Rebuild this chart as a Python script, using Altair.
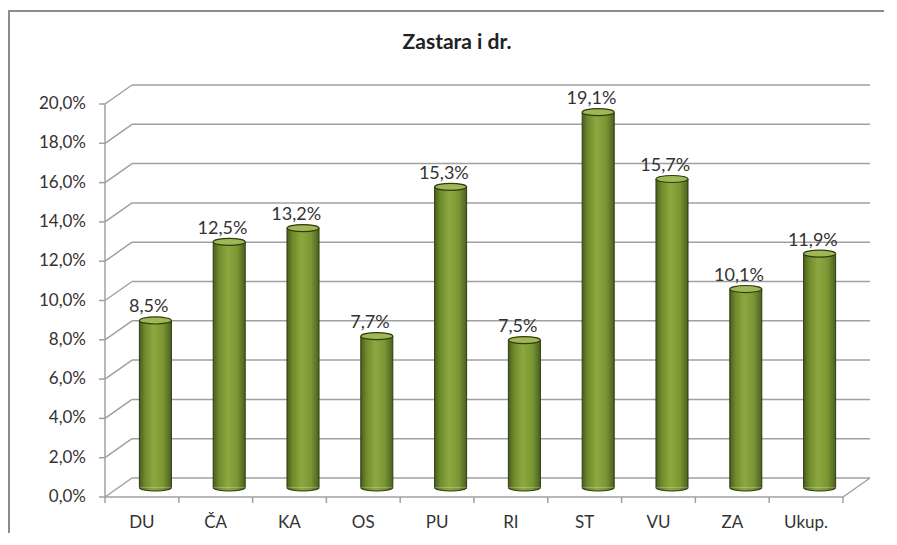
import altair as alt
import pandas as pd

# ---- data ----
categories = ["DU", "ČA", "KA", "OS", "PU", "RI", "ST", "VU", "ZA", "Ukup."]
values = [8.5, 12.5, 13.2, 7.7, 15.3, 7.5, 19.1, 15.7, 10.1, 11.9]
y_ticks = [0, 2, 4, 6, 8, 10, 12, 14, 16, 18, 20]
title_text = "Zastara i dr."

# ---- geometry (3D depth offsets in data units) ----
W, H = 765, 412
DX = 0.366   # depth offset along x (category units)
DY = 0.967   # depth offset along y (percent units)
HALF_W = 0.217  # half cylinder width (category units)
N = len(categories)

FONT = "Lato"
TXT = "#333333"
GRID = "#a0a0a0"

xs = alt.Scale(domain=[0, N + DX], nice=False, zero=False)
ys = alt.Scale(domain=[0, 20 + DY], nice=False, zero=False)

bars = pd.DataFrame({"cat": categories, "val": values, "idx": list(range(N))})
bars["cc"] = bars["idx"] + 0.5
bars["cx"] = bars["idx"] + 0.5 + DX / 2
bars["x0"] = bars["cx"] - HALF_W
bars["x1"] = bars["cx"] + HALF_W
bars["base"] = DY / 2
bars["top"] = bars["val"] + DY / 2
bars["lx"] = bars["idx"] + 0.5 + DX / 4
bars["label"] = bars["val"].map(lambda v: f"{v:.1f}".replace(".", ",") + "%")

grid = pd.DataFrame({"v": y_ticks})
grid["vb"] = grid["v"] + DY
grid["x0"] = 0.0
grid["xb0"] = DX
grid["xb1"] = N + DX
grid["lab"] = grid["v"].map(lambda v: f"{v:.1f}".replace(".", ",") + "%")

X = lambda f: alt.X(f, type="quantitative", scale=xs, axis=None)
Y = lambda f: alt.Y(f, type="quantitative", scale=ys, axis=None)

# outer chart frame (right/bottom edges fall outside the view, as in the crop)
frame = alt.Chart(pd.DataFrame({"a": [0]})).mark_rect(
    fill="white", stroke="#8c8c8c", strokeWidth=2).encode(
    x=alt.value(-96), x2=alt.value(W + 40), y=alt.value(-74), y2=alt.value(H + 80))

# back wall gridlines
back = alt.Chart(grid).mark_rule(color=GRID, strokeWidth=1.5).encode(
    x=X("xb0"), x2="xb1", y=Y("vb"))
# side wall diagonals
side = alt.Chart(grid).mark_rule(color=GRID, strokeWidth=1.5).encode(
    x=X("x0"), x2="xb0", y=Y("v"), y2="vb")

floor_df = pd.DataFrame({"xa": [0, N, 0], "xb": [N, N + DX, 0],
                         "ya": [0, 0, 0], "yb": [0, DY, 20]})
floor = alt.Chart(floor_df).mark_rule(color=GRID, strokeWidth=1.5).encode(
    x=X("xa"), x2="xb", y=Y("ya"), y2="yb")

# y axis ticks + labels
yticks = alt.Chart(grid).mark_rule(color=GRID, strokeWidth=1.5).encode(
    x=alt.value(-6), x2=alt.value(0), y=Y("v"))
ylabels = alt.Chart(grid).mark_text(
    font=FONT, fontSize=17, color=TXT, align="right", baseline="middle").encode(
    x=alt.value(-19), y=Y("v"), text="lab:N")

# x axis ticks + labels
xt = pd.DataFrame({"t": list(range(N + 1))})
xticks = alt.Chart(xt).mark_rule(color=GRID, strokeWidth=1.5).encode(
    x=X("t"), y=alt.value(H), y2=alt.value(H + 6))
xlabels = alt.Chart(bars).mark_text(
    font=FONT, fontSize=17, color=TXT, align="center", baseline="middle").encode(
    x=X("cc"), y=alt.value(H + 26), text="cat:N")

body_grad = alt.Gradient(
    gradient="linear", x1=0, y1=0, x2=1, y2=0,
    stops=[alt.GradientStop(offset=0, color="#4a5d1e"),
           alt.GradientStop(offset=0.18, color="#6f8b2c"),
           alt.GradientStop(offset=0.45, color="#8ea840"),
           alt.GradientStop(offset=0.75, color="#7a9633"),
           alt.GradientStop(offset=1, color="#4b6020")])

K = 0.22
c = 0.552
half_path = (f"M -1 0 C -1 {c*K:.3f} -{c:.3f} {K} 0 {K} "
             f"C {c:.3f} {K} 1 {c*K:.3f} 1 0")
full_path = (f"M -1 0 C -1 -{c*K:.3f} -{c:.3f} -{K} 0 -{K} "
             f"C {c:.3f} -{K} 1 -{c*K:.3f} 1 0 "
             f"C 1 {c*K:.3f} {c:.3f} {K} 0 {K} "
             f"C -{c:.3f} {K} -1 {c*K:.3f} -1 0 Z")

bottom = alt.Chart(bars).mark_point(
    shape=half_path, size=1024, filled=True, fill=body_grad, opacity=1,
    stroke="#2f3b10", strokeWidth=1.2).encode(x=X("cx"), y=Y("base"))
body = alt.Chart(bars).mark_bar(fill=body_grad).encode(
    x=X("x0"), x2="x1", y=Y("base"), y2="top")
edge_l = alt.Chart(bars).mark_rule(color="#2f3b10", strokeWidth=1).encode(
    x=X("x0"), y=Y("base"), y2="top")
edge_r = alt.Chart(bars).mark_rule(color="#2f3b10", strokeWidth=1).encode(
    x=X("x1"), y=Y("base"), y2="top")
topcap = alt.Chart(bars).mark_point(
    shape=full_path, size=1024, filled=True, fill="#a0b755", opacity=1,
    stroke="#2f3b10", strokeWidth=1.2).encode(x=X("cx"), y=Y("top"))

labels = alt.Chart(bars).mark_text(
    font=FONT, fontSize=18, color=TXT, baseline="alphabetic", dy=-8).encode(
    x=X("lx"), y=Y("top"), text="label:N")

title = alt.Chart(pd.DataFrame({"t": [title_text]})).mark_text(
    font=FONT, fontSize=21, fontWeight="bold", color="#222222",
    align="center", baseline="middle").encode(
    x=alt.value(352), y=alt.value(-42), text="t:N")

chart = alt.layer(
    frame, back, side, floor, yticks, ylabels, xticks, xlabels,
    bottom, body, edge_l, edge_r, topcap, labels, title
).properties(
    width=W, height=H,
    autosize=alt.AutoSizeParams(type="none"),
    padding={"left": 97, "top": 77, "right": 14, "bottom": 36},
).configure_view(stroke=None).configure(background="white")

chart.save("out.html", embed_options={"renderer": "svg", "actions": False})
